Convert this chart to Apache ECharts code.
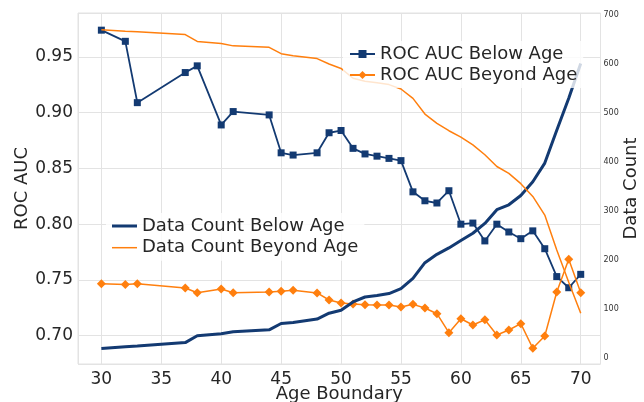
<!DOCTYPE html>
<html>
<head>
<meta charset="utf-8">
<script src="https://cdn.jsdelivr.net/npm/echarts@6/dist/echarts.min.js"></script>
<style>
html,body{margin:0;padding:0;background:#fff;}
#chart{width:644px;height:402px;}
</style>
</head>
<body>
<div id="chart"></div>
<script>
const ages = [30,32,33,37,38,40,41,44,45,46,48,49,50,51,52,53,54,55,56,57,58,59,60,61,62,63,64,65,66,67,68,69,70];
const rocBelow = [0.974,0.964,0.909,0.936,0.942,0.889,0.901,0.898,0.864,0.862,0.864,0.882,0.884,0.868,0.863,0.861,0.859,0.857,0.829,0.821,0.819,0.830,0.800,0.801,0.785,0.800,0.793,0.787,0.794,0.778,0.753,0.743,0.755];
const rocBeyond = [0.7466,0.7460,0.7466,0.7427,0.7385,0.7418,0.7385,0.7392,0.7398,0.7407,0.7383,0.7320,0.7293,0.7284,0.7278,0.7275,0.7275,0.7257,0.7281,0.7248,0.7197,0.7027,0.7152,0.7096,0.7143,0.7006,0.7051,0.7108,0.6887,0.6997,0.7392,0.7685,0.7385];
const countBelow = [20,23.5,25,32,46,50,54,58,71,73,80,92,98,115,125,128,132,142,163,195,212,225,240,255,275,303,313,332,360,398,465,530,601];
const countBeyond = [670,667,666,660,646,642,637,634,621,617,611,600,591,571,565,562,558,549,530,498,479,464,451,435,415,391,377,356,330,292,221,155,92];
const xTicks = [30,35,40,45,50,55,60,65,70];
const leftTicks = [0.70,0.75,0.80,0.85,0.90,0.95];
const rightTicks = [0,100,200,300,400,500,600,700];

const NAVY = '#133a72';
const ORANGE = '#ff7f0e';
const TXT = '#262626';
const FONT = 'DejaVu Sans';
const pair = (ys) => ages.map((a, i) => [a, ys[i]]);
const near = (v, list) => list.some(t => Math.abs(t - v) < 1e-6);

const chart = echarts.init(document.getElementById('chart'), null, {renderer: 'canvas'});
chart.setOption({
  backgroundColor: '#fff',
  animation: false,
  textStyle: {fontFamily: FONT, color: TXT},
  grid: {left: 78, right: 43.5, top: 13, bottom: 38, containLabel: false, outerBoundsMode: 'none',
    show: true, borderColor: '#e3e3e3', borderWidth: 1, backgroundColor: 'transparent'},
  legend: [
    {
      data: ['ROC AUC Below Age', 'ROC AUC Beyond Age'],
      orient: 'vertical', left: 343, top: 41,
      itemWidth: 25, itemHeight: 10, itemGap: 3,
      padding: [4, 6],
      backgroundColor: 'rgba(255,255,255,0.8)',
      textStyle: {fontFamily: FONT, fontSize: 18, color: TXT, lineHeight: 18}
    },
    {
      data: [
        {name: 'Data Count Below Age', icon: 'path://M0,0H25V3H0Z'},
        {name: 'Data Count Beyond Age', icon: 'path://M0,0H25V1.5H0Z'}
      ],
      orient: 'vertical', left: 106, top: 213,
      itemWidth: 25, itemHeight: 10, itemGap: 3.7,
      padding: [4, 6],
      backgroundColor: 'rgba(255,255,255,0.8)',
      textStyle: {fontFamily: FONT, fontSize: 18, color: TXT, lineHeight: 18}
    }
  ],
  xAxis: {
    type: 'value', min: 28.05, max: 71.65, minInterval: 5, maxInterval: 5, splitNumber: 9,
    name: 'Age Boundary', nameLocation: 'middle', nameGap: 21, nameMoveOverlap: false,
    nameTextStyle: {fontFamily: FONT, fontSize: 18, color: TXT},
    axisLine: {show: false}, axisTick: {show: false},
    axisLabel: {fontFamily: FONT, fontSize: 17, color: TXT, margin: 7,
      formatter: v => near(v, xTicks) ? String(Math.round(v)) : ''},
    splitLine: {show: true, lineStyle: {color: '#e3e3e3', width: 1}}
  },
  yAxis: [
    {
      type: 'value', min: 0.6746, max: 0.9894, minInterval: 0.05, maxInterval: 0.05, splitNumber: 6,
      name: 'ROC AUC', nameLocation: 'middle', nameGap: 47, nameMoveOverlap: false,
      nameTextStyle: {fontFamily: FONT, fontSize: 18, color: TXT},
      axisLine: {show: false}, axisTick: {show: false},
      axisLabel: {fontFamily: FONT, fontSize: 17, color: TXT, margin: 5,
        formatter: v => near(v, leftTicks) ? v.toFixed(2) : ''},
      splitLine: {show: true, lineStyle: {color: '#e3e3e3', width: 1}}
    },
    {
      type: 'value', min: -11.6, max: 704, minInterval: 100, maxInterval: 100, splitNumber: 7,
      position: 'right',
      name: 'Data Count', nameLocation: 'middle', nameGap: 22, nameMoveOverlap: false,
      nameTextStyle: {fontFamily: FONT, fontSize: 18, color: TXT},
      axisLine: {show: false}, axisTick: {show: false},
      axisLabel: {fontFamily: FONT, fontSize: 8, color: '#333', margin: 3,
        formatter: v => near(v, rightTicks) ? String(Math.round(v)) : ''},
      splitLine: {show: false}
    }
  ],
  series: [
    {
      name: 'ROC AUC Below Age', type: 'line', yAxisIndex: 0, data: pair(rocBelow),
      symbol: 'rect', symbolSize: 7, showSymbol: true,
      lineStyle: {color: NAVY, width: 1.8}, itemStyle: {color: NAVY}, z: 2
    },
    {
      name: 'ROC AUC Beyond Age', type: 'line', yAxisIndex: 0, data: pair(rocBeyond),
      symbol: 'diamond', symbolSize: 9, showSymbol: true,
      lineStyle: {color: ORANGE, width: 1.5}, itemStyle: {color: ORANGE}, z: 2
    },
    {
      name: 'Data Count Below Age', type: 'line', yAxisIndex: 1, data: pair(countBelow),
      symbol: 'none', showSymbol: false,
      lineStyle: {color: NAVY, width: 3}, itemStyle: {color: NAVY}, z: 3
    },
    {
      name: 'Data Count Beyond Age', type: 'line', yAxisIndex: 1, data: pair(countBeyond),
      symbol: 'none', showSymbol: false,
      lineStyle: {color: ORANGE, width: 1.5}, itemStyle: {color: ORANGE}, z: 3
    }
  ]
});
</script>
</body>
</html>
